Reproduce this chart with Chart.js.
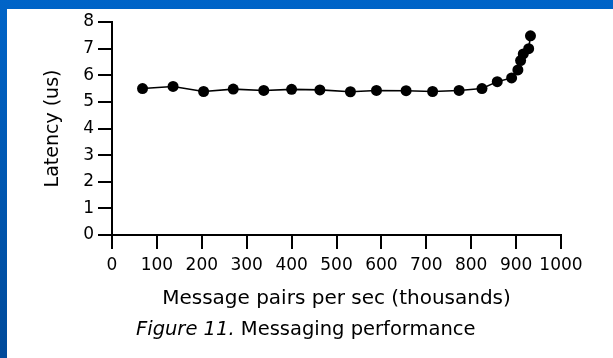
<!DOCTYPE html>
<html>
<head>
<meta charset="utf-8">
<script src="https://cdn.jsdelivr.net/npm/chart.js@4.4.1/dist/chart.umd.min.js"></script>
<style>
  html, body { margin: 0; padding: 0; }
  body {
    width: 613px;
    height: 358px;
    overflow: hidden;
    position: relative;
    background: linear-gradient(#0064c8, #004a9a);
  }
  #panel { position: absolute; left: 7px; top: 9px; right: 0; bottom: 0; background: #fff; }
  #chart { position: absolute; left: 0; top: 0; }
  #caption {
    position: absolute;
    left: 136px;
    top: 318px;
    font: 19.5px/22px "DejaVu Sans", sans-serif;
    color: #000;
    white-space: nowrap;
  }
</style>
</head>
<body>
<div id="panel"></div>
<canvas id="chart" width="613" height="358"></canvas>
<div id="caption"><i>Figure 11.</i> Messaging performance</div>
<script>
// message pairs per sec (thousands) vs latency (us)
const rates = [68, 136, 204, 270, 338, 400, 463, 531, 589, 655, 714, 773, 824, 858, 890, 904, 910, 916, 928, 932];
const latency = [5.50, 5.58, 5.39, 5.48, 5.43, 5.47, 5.45, 5.38, 5.43, 5.42, 5.39, 5.43, 5.50, 5.76, 5.90, 6.20, 6.55, 6.80, 7.00, 7.48];

const X_TITLE = 'Message pairs per sec (thousands)';
const Y_TITLE = 'Latency (us)';

const INK = '#000';
const FONT = 'DejaVu Sans';

const points = rates.map((r, i) => ({ x: r, y: latency[i] }));

new Chart(document.getElementById('chart'), {
  type: 'line',
  data: {
    datasets: [
      {
        data: points,
        borderColor: INK,
        borderWidth: 1.6,
        backgroundColor: INK,
        pointRadius: 5.5,
        pointBackgroundColor: INK,
        pointBorderWidth: 0,
        tension: 0,
      },
    ],
  },
  options: {
    responsive: false,
    animation: false,
    layout: {
      padding: { top: 22, right: 52, bottom: 0, left: 0 },
    },
    plugins: {
      legend: { display: false },
      tooltip: { enabled: false },
    },
    scales: {
      x: {
        type: 'linear',
        min: 0,
        max: 1000,
        afterFit: (scale) => { scale.height = 123; },
        ticks: {
          stepSize: 100,
          padding: 6,
          maxRotation: 0,
          minRotation: 0,
          autoSkip: false,
          color: INK,
          font: { family: FONT, size: 17 },
          callback: (v) => String(v),
        },
        grid: {
          drawOnChartArea: false,
          drawTicks: true,
          tickLength: 14,
          lineWidth: 2,
          color: INK,
        },
        border: { display: true, color: INK, width: 2 },
        title: {
          display: true,
          text: X_TITLE,
          color: INK,
          font: { family: FONT, size: 20 },
          padding: { top: 0, bottom: 47 },
        },
      },
      y: {
        min: 0,
        max: 8,
        afterFit: (scale) => { scale.width = 112; },
        ticks: {
          stepSize: 1,
          padding: 4,
          color: INK,
          font: { family: FONT, size: 17 },
        },
        grid: {
          drawOnChartArea: false,
          drawTicks: true,
          tickLength: 14,
          lineWidth: 2,
          color: INK,
        },
        border: { display: true, color: INK, width: 2 },
        title: {
          display: true,
          text: Y_TITLE,
          color: INK,
          font: { family: FONT, size: 19 },
          padding: { top: 42, bottom: 0 },
        },
      },
    },
  },
});
</script>
</body>
</html>
